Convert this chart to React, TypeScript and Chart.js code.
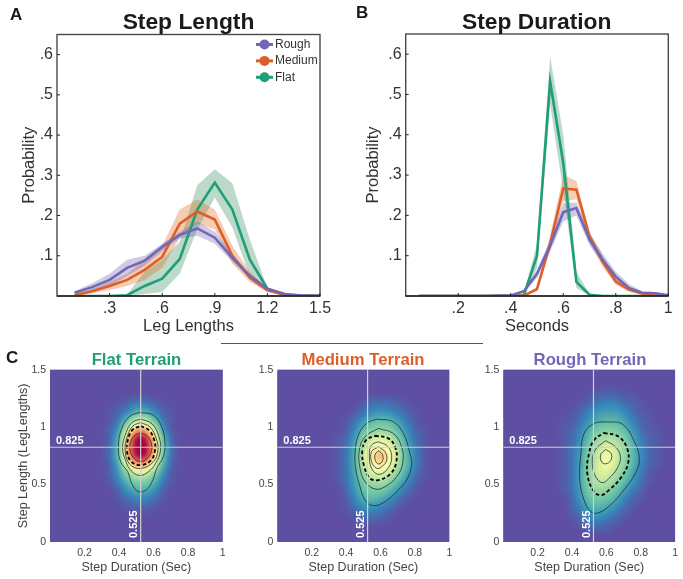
import React, { useEffect, useRef } from "react";
import { Chart, ChartConfiguration, Plugin, registerables } from "chart.js";

Chart.register(...registerables);

const FONT = "'Liberation Sans', Arial, sans-serif";
const ROUGH = "#7068b6";
const MEDIUM = "#dc5f2a";
const FLAT = "#1f9e77";
const ROUGH_BAND = "rgba(95,82,165,.3)";
const MEDIUM_BAND = "rgba(222,88,8,.3)";
const FLAT_BAND = "rgba(32,128,75,.3)";
const INK = "#333333";

// Panel A, step length histogram
const lengthBins = [.1, .2, .3, .4, .5, .6, .7, .8, .9, 1, 1.1, 1.2, 1.3, 1.4, 1.5];
const lengthRough = [.008, .022, .04, .07, .088, .122, .152, .168, .145, .095, .05, .018, .005, .001, .001];
const lengthRoughHi = [.012, .032, .055, .09, .1, .13, .16, .185, .16, .105, .055, .02, .006, .002, .001];
const lengthRoughLo = [.004, .012, .025, .05, .075, .112, .143, .15, .13, .085, .045, .015, .004, .001, 0];
const lengthMedium = [.002, .012, .025, .04, .065, .097, .18, .21, .19, .1, .045, .014, .003, .001, 0];
const lengthMediumHi = [.003, .018, .035, .055, .09, .125, .215, .24, .215, .125, .06, .018, .004, .001, 0];
const lengthMediumLo = [0, .006, .015, .025, .04, .07, .145, .18, .165, .08, .035, .01, .002, 0, 0];
const lengthFlat = [0, 0, 0, .002, .025, .043, .092, .215, .282, .215, .09, .018, .002, 0, 0];
const lengthFlatHi = [0, 0, 0, .004, .06, .09, .135, .275, .315, .28, .14, .02, .003, 0, 0];
const lengthFlatLo = [0, 0, 0, 0, .005, .01, .055, .165, .245, .17, .05, .015, .001, 0, 0];

// Panel B, step duration histogram
const durationBins = [.05, .1, .15, .2, .25, .3, .35, .4, .45, .5, .55, .6, .65, .7, .75, .8, .85, .9, .95, 1];
const durationRough = [0, 0, 0, 0, 0, 0, .001, .001, .012, .055, .125, .208, .218, .14, .09, .048, .02, .008, .007, .002];
const durationRoughHi = [0, 0, 0, 0, 0, 0, .001, .002, .015, .065, .14, .23, .232, .155, .105, .06, .03, .012, .01, .003];
const durationRoughLo = [0, 0, 0, 0, 0, 0, 0, 0, .008, .045, .11, .185, .2, .125, .08, .04, .015, .005, .004, .001];
const durationMedium = [0, 0, 0, 0, 0, 0, 0, 0, .001, .017, .13, .267, .264, .148, .085, .036, .016, .006, .001, 0];
const durationMediumHi = [0, 0, 0, 0, 0, 0, 0, 0, .002, .022, .15, .3, .285, .16, .1, .045, .022, .009, .002, 0];
const durationMediumLo = [0, 0, 0, 0, 0, 0, 0, 0, 0, .012, .112, .235, .24, .135, .072, .028, .01, .003, 0, 0];
const durationFlat = [0, 0, 0, 0, 0, 0, 0, 0, .002, .1, .532, .33, .035, .003, 0, 0, 0, 0, 0, 0];
const durationFlatHi = [0, 0, 0, 0, 0, 0, 0, 0, .006, .13, .595, .4, .06, .005, 0, 0, 0, 0, 0, 0];
const durationFlatLo = [0, 0, 0, 0, 0, 0, 0, 0, 0, .07, .475, .26, .02, .001, 0, 0, 0, 0, 0, 0];

const probTicks = [.1, .2, .3, .4, .5, .6];
const lengthTicks = [.3, .6, .9, 1.2, 1.5];
const durationTicks = [.2, .4, .6, .8, 1];
const heatXTicks = [.2, .4, .6, .8, 1];
const heatYTicks = [0, .5, 1, 1.5];
const legendNames = ["Rough", "Medium", "Flat"];
const legendColors = [ROUGH, MEDIUM, FLAT];

// Panel C, joint densities: the rows run from the top down
const crossX = 0.525;
const crossY = 0.825;
const flatCols = [.3, .35, .4, .45, .5, .55, .6, .65, .7, .75, .8];
const flatRows = [1.275, 1.2, 1.125, 1.05, .975, .9, .825, .75, .675, .6, .525, .45, .375, .3, .225];
const flatGrid = [
  [0, 0, 0, 0, .01, .01, 0, 0, 0, 0, 0],
  [0, 0, .01, .02, .04, .04, .02, .01, 0, 0, 0],
  [0, .01, .02, .05, .11, .11, .06, .02, .01, 0, 0],
  [0, .01, .04, .14, .33, .33, .16, .04, .01, 0, 0],
  [0, .02, .07, .33, .72, .72, .36, .08, .01, 0, 0],
  [0, .02, .11, .6, 1, 1, .62, .14, .02, 0, 0],
  [0, .03, .13, .7, 1.05, 1.05, .72, .17, .03, 0, 0],
  [0, .03, .13, .65, 1, 1, .66, .15, .03, 0, 0],
  [0, .02, .1, .42, .72, .72, .44, .12, .02, 0, 0],
  [0, .02, .07, .2, .35, .35, .2, .07, .01, 0, 0],
  [0, .01, .05, .12, .18, .18, .12, .04, .01, 0, 0],
  [0, 0, .02, .07, .1, .1, .07, .02, 0, 0, 0],
  [0, 0, .01, .03, .05, .05, .03, .01, 0, 0, 0],
  [0, 0, 0, .01, .02, .02, .01, 0, 0, 0, 0],
  [0, 0, 0, 0, 0, 0, 0, 0, 0, 0, 0],
];
const mediumCols = [.3, .35, .4, .45, .5, .55, .6, .65, .7, .75, .8, .85, .9];
const mediumRows = [1.275, 1.2, 1.125, 1.05, .975, .9, .825, .75, .675, .6, .525, .45, .375, .3, .225, .15];
const mediumGrid = [
  [0, 0, 0, 0, 0, .01, .01, .01, 0, 0, 0, 0, 0],
  [0, 0, 0, 0, .01, .03, .03, .03, .02, .01, 0, 0, 0],
  [0, 0, 0, .01, .03, .06, .07, .06, .04, .02, .01, 0, 0],
  [0, 0, .01, .03, .07, .12, .13, .12, .08, .04, .01, 0, 0],
  [0, 0, .01, .05, .12, .19, .21, .19, .12, .06, .02, .01, 0],
  [0, .01, .02, .07, .2, .31, .34, .3, .18, .08, .03, .01, 0],
  [0, .01, .03, .09, .27, .44, .5, .42, .24, .1, .04, .01, 0],
  [0, .01, .03, .1, .3, .55, .7, .5, .27, .12, .05, .01, 0],
  [0, .01, .03, .1, .28, .47, .58, .44, .25, .12, .05, .01, 0],
  [0, .01, .03, .09, .22, .35, .39, .31, .19, .09, .03, .01, 0],
  [0, .01, .03, .08, .17, .24, .26, .2, .12, .06, .02, 0, 0],
  [0, 0, .02, .07, .13, .17, .17, .12, .07, .03, .01, 0, 0],
  [0, 0, .01, .05, .1, .12, .1, .07, .03, .01, 0, 0, 0],
  [0, 0, .01, .03, .06, .07, .05, .03, .01, 0, 0, 0, 0],
  [0, 0, 0, .01, .03, .03, .02, .01, 0, 0, 0, 0, 0],
  [0, 0, 0, 0, .01, .01, .01, 0, 0, 0, 0, 0, 0],
];
const roughCols = [.3, .35, .4, .45, .5, .55, .6, .65, .7, .75, .8, .85, .9, .95];
const roughRows = [1.35, 1.275, 1.2, 1.125, 1.05, .975, .9, .825, .75, .675, .6, .525, .45, .375, .3, .225, .15, .075];
const roughGrid = [
  [0, 0, 0, 0, 0, 0, .01, .01, 0, 0, 0, 0, 0, 0],
  [0, 0, 0, 0, .01, .02, .02, .02, .01, .01, 0, 0, 0, 0],
  [0, 0, 0, .01, .02, .04, .05, .05, .03, .02, .01, 0, 0, 0],
  [0, 0, .01, .02, .05, .07, .08, .08, .06, .03, .01, .01, 0, 0],
  [0, .01, .01, .03, .07, .1, .12, .12, .09, .05, .02, .01, 0, 0],
  [0, .01, .02, .05, .1, .16, .18, .17, .13, .07, .03, .01, .01, 0],
  [0, .01, .02, .06, .13, .22, .27, .25, .18, .1, .04, .02, .01, 0],
  [0, .01, .03, .07, .16, .27, .36, .32, .22, .12, .05, .02, .01, 0],
  [0, .01, .03, .08, .18, .31, .44, .35, .23, .13, .06, .02, .01, 0],
  [0, .01, .03, .08, .19, .33, .42, .33, .21, .12, .05, .02, .01, 0],
  [0, .01, .03, .09, .2, .33, .36, .27, .17, .09, .04, .01, 0, 0],
  [0, .01, .03, .09, .19, .29, .29, .21, .13, .07, .03, .01, 0, 0],
  [0, .01, .03, .08, .17, .22, .21, .15, .09, .04, .02, 0, 0, 0],
  [0, 0, .02, .07, .13, .16, .15, .1, .05, .02, .01, 0, 0, 0],
  [0, 0, .02, .05, .1, .11, .09, .06, .03, .01, 0, 0, 0, 0],
  [0, 0, .01, .03, .06, .07, .05, .03, .01, 0, 0, 0, 0, 0],
  [0, 0, 0, .01, .03, .03, .02, .01, 0, 0, 0, 0, 0, 0],
  [0, 0, 0, 0, .01, .01, .01, 0, 0, 0, 0, 0, 0, 0],
];

// Contours as [duration, length] pairs. The dashed one is listed apart.
type Pair = [number, number];
const flatContours: Pair[][] = [
  [[.521, 1.128], [.598, 1.105], [.647, 1.003], [.666, .858], [.656, .742], [.618, .641], [.595, .539], [.56, .458], [.512, .438], [.473, .51], [.45, .612], [.409, .699], [.396, .829], [.415, .989], [.463, 1.096]],
  [[.525, 1.07], [.59, 1.03], [.63, .92], [.64, .8], [.61, .68], [.56, .6], [.515, .58], [.47, .62], [.44, .7], [.42, .82], [.44, .95], [.475, 1.04]],
  [[.525, 1.04], [.58, 1], [.615, .9], [.625, .8], [.6, .7], [.525, .64], [.46, .68], [.435, .8], [.45, .93], [.48, 1.01]],
  [[.525, .95], [.565, .92], [.59, .83], [.57, .74], [.525, .7], [.48, .74], [.462, .83], [.485, .92]],
];
const flatDashed: Pair[] = [[.525, 1.01], [.575, .97], [.605, .88], [.608, .8], [.585, .71], [.525, .67], [.47, .7], [.445, .8], [.455, .91], [.48, .98]];
const mediumContours: Pair[][] = [
  [[.578, 1.07], [.674, 1.047], [.733, .945], [.771, .771], [.781, .67], [.752, .54], [.694, .438], [.626, .351], [.558, .316], [.51, .365], [.481, .481], [.457, .626], [.452, .771], [.471, .931], [.519, 1.032]],
  [[.587, .989], [.674, .945], [.723, .829], [.729, .684], [.694, .568], [.626, .481], [.568, .461], [.51, .525], [.481, .641], [.477, .8], [.51, .916]],
  [[.587, .873], [.645, .829], [.665, .728], [.636, .626], [.587, .589], [.548, .641], [.535, .757], [.548, .844]],
  [[.587, .829], [.626, .786], [.636, .713], [.607, .655], [.578, .641], [.548, .699], [.548, .786]],
  [[.591, .795], [.612, .757], [.612, .708], [.591, .679], [.57, .708], [.57, .766]],
];
const mediumDashed: Pair[] = [[.568, .925], [.645, .902], [.688, .815], [.69, .684], [.655, .589], [.587, .539], [.539, .554], [.506, .655], [.494, .786], [.516, .887]];
const roughContours: Pair[][] = [
  [[.595, 1.047], [.692, 1.027], [.759, .887], [.792, .728], [.769, .597], [.701, .452], [.634, .336], [.557, .255], [.509, .264], [.47, .365], [.445, .539], [.451, .757], [.47, .945], [.528, 1.032]],
  [[.595, .882], [.653, .829], [.682, .742], [.663, .641], [.615, .554], [.576, .516], [.538, .568], [.518, .684], [.534, .8]],
  [[.595, .806], [.628, .771], [.628, .719], [.605, .684], [.576, .69], [.566, .757]],
];
const roughDashed: Pair[] = [[.586, .951], [.672, .916], [.721, .815], [.726, .684], [.682, .554], [.615, .452], [.572, .409], [.528, .438], [.489, .597], [.499, .771], [.528, .887]];

// Spectral colour map, the low end is compressed like the reference
const spectralStops = [0, .05, .13, .25, .36, .47, .57, .67, .8, .9, 1];
const spectral = [
  [94, 79, 162], [50, 136, 189], [102, 194, 165], [171, 221, 164], [230, 245, 152],
  [255, 255, 191], [254, 224, 139], [253, 174, 97], [244, 109, 67], [213, 62, 79], [158, 1, 66],
];

function colorFor(v: number): number[] {
  let i = 0;
  while (i < spectralStops.length - 2 && v > spectralStops[i + 1]) {
    i++;
  }
  const f = Math.min(Math.max((v - spectralStops[i]) / (spectralStops[i + 1] - spectralStops[i]), 0), 1);
  return spectral[i].map((c, k) => c + (spectral[i + 1][k] - c) * f);
}

/** Paints a value grid like imshow with interpolation, positions come from the scales. */
function heatPlugin(cols: number[], rows: number[], grid: number[][]): Plugin {
  const dx = cols[1] - cols[0];
  const dy = rows[0] - rows[1];
  const sample = (x: number, y: number) => {
    const u = (x - cols[0]) / dx;
    const v = (rows[0] - y) / dy;
    const i = Math.floor(u);
    const j = Math.floor(v);
    if (i < 0 || j < 0 || i >= cols.length - 1 || j >= rows.length - 1) {
      return 0;
    }
    const a = u - i;
    const b = v - j;
    return grid[j][i] * (1 - a) * (1 - b) + grid[j][i + 1] * a * (1 - b)
      + grid[j + 1][i] * (1 - a) * b + grid[j + 1][i + 1] * a * b;
  };
  return {
    id: "heat",
    beforeDatasetsDraw(chart) {
      const { ctx, chartArea: area, scales } = chart;
      const w = Math.ceil(area.width);
      const h = Math.ceil(area.height);
      const off = document.createElement("canvas");
      off.width = w;
      off.height = h;
      const octx = off.getContext("2d")!;
      const img = octx.createImageData(w, h);
      for (let py = 0; py < h; py++) {
        const y = scales.y.getValueForPixel(area.top + py + .5)!;
        for (let px = 0; px < w; px++) {
          const x = scales.x.getValueForPixel(area.left + px + .5)!;
          const c = colorFor(sample(x, y));
          const o = (py * w + px) * 4;
          img.data[o] = c[0];
          img.data[o + 1] = c[1];
          img.data[o + 2] = c[2];
          img.data[o + 3] = 255;
        }
      }
      octx.putImageData(img, 0, 0);
      ctx.save();
      ctx.fillStyle = "rgb(94,79,162)";
      ctx.fillRect(area.left, area.top, area.width, area.height);
      ctx.beginPath();
      ctx.rect(area.left, area.top, area.width, area.height);
      ctx.clip();
      ctx.filter = "blur(2px)";
      ctx.drawImage(off, area.left, area.top, area.width, area.height);
      ctx.restore();
    },
  };
}

const crossLabels: Plugin = {
  id: "crossLabels",
  afterDatasetsDraw(chart) {
    const { ctx, chartArea: area, scales } = chart;
    ctx.save();
    ctx.fillStyle = "#ffffff";
    ctx.font = `bold 11px ${FONT}`;
    ctx.textBaseline = "bottom";
    ctx.fillText(crossY.toFixed(3), area.left + 6, scales.y.getPixelForValue(crossY) - 1);
    ctx.translate(scales.x.getPixelForValue(crossX) - 1, area.bottom - 4);
    ctx.rotate(-Math.PI / 2);
    ctx.fillText(crossX.toFixed(3), 0, 0);
    ctx.restore();
  },
};

const frame: Plugin = {
  id: "frame",
  afterDraw(chart) {
    const { ctx, chartArea: area, scales } = chart;
    ctx.save();
    ctx.strokeStyle = "#4a4a4a";
    ctx.lineWidth = 1.4;
    ctx.strokeRect(area.left, area.top, area.width, area.height);
    ctx.strokeStyle = "#222222";
    ctx.lineWidth = 1.7;
    ctx.beginPath();
    ctx.moveTo(area.left, area.bottom);
    ctx.lineTo(area.right, area.bottom);
    ctx.stroke();
    ctx.lineWidth = 1;
    ctx.beginPath();
    scales.x.ticks.forEach((t) => {
      const x = scales.x.getPixelForValue(t.value);
      ctx.moveTo(x, area.bottom);
      ctx.lineTo(x, area.bottom - 3);
    });
    scales.y.ticks.forEach((t) => {
      const y = scales.y.getPixelForValue(t.value);
      ctx.moveTo(area.left, y);
      ctx.lineTo(area.left + 3, y);
    });
    ctx.stroke();
    ctx.restore();
  },
};

const legendBox: Plugin = {
  id: "legendBox",
  afterDraw(chart) {
    const { ctx } = chart;
    ctx.save();
    ctx.font = `12px ${FONT}`;
    ctx.textBaseline = "middle";
    legendNames.forEach((name, i) => {
      const y = 44.5 + i * 16.4;
      ctx.strokeStyle = legendColors[i];
      ctx.fillStyle = legendColors[i];
      ctx.lineWidth = 3;
      ctx.beginPath();
      ctx.moveTo(256, y);
      ctx.lineTo(273, y);
      ctx.stroke();
      ctx.beginPath();
      ctx.arc(264.5, y, 5, 0, Math.PI * 2);
      ctx.fill();
      ctx.fillStyle = INK;
      ctx.fillText(name, 275, y);
    });
    ctx.restore();
  },
};

const cleanTick = (v: number | string) => String(v).replace(/^0\./, ".");

function lineDataset(color: string, values: number[]) {
  return {
    data: values, borderColor: color, borderWidth: 2.6,
    pointRadius: 0, fill: false, tension: 0,
  };
}

function bandDatasets(color: string, hi: number[], lo: number[], loIndex: number) {
  return [
    { data: hi, borderWidth: 0, pointRadius: 0, backgroundColor: color, fill: loIndex },
    { data: lo, borderWidth: 0, pointRadius: 0, fill: false },
  ];
}

function histogramConfig(o: {
  bins: number[], series: number[][], xMax: number, xTicks: number[], xLabel: string,
  padLeft: number, axisWidth: number, padRight: number, padTop: number,
  plugins: Plugin[],
}): ChartConfiguration {
  const [r, rh, rl, m, mh, ml, f, fh, fl] = o.series;
  return {
    type: "line",
    data: {
      labels: o.bins,
      datasets: [
        lineDataset(ROUGH, r),
        lineDataset(MEDIUM, m),
        lineDataset(FLAT, f),
        ...bandDatasets(ROUGH_BAND, rh, rl, 4),
        ...bandDatasets(MEDIUM_BAND, mh, ml, 6),
        ...bandDatasets(FLAT_BAND, fh, fl, 8),
      ] as any,
    },
    options: {
      animation: false,
      responsive: false,
      layout: { padding: { left: o.padLeft, right: o.padRight, top: o.padTop, bottom: 0 } },
      plugins: { legend: { display: false }, tooltip: { enabled: false } },
      scales: {
        x: {
          type: "linear", min: 0, max: o.xMax,
          grid: { display: false, drawTicks: false },
          border: { display: false },
          afterBuildTicks: (s: any) => { s.ticks = o.xTicks.map((value) => ({ value })); },
          afterFit: (s: any) => { s.height = 40; },
          ticks: {
            color: INK, padding: 3, maxRotation: 0, autoSkip: false,
            font: { family: FONT, size: 16 },
            callback: (v: any) => cleanTick(v),
          },
          title: {
            display: true, text: o.xLabel, color: INK, padding: 0,
            font: { family: FONT, size: 16.5 },
          },
        },
        y: {
          min: 0, max: .65,
          grid: { display: false, drawTicks: false },
          border: { display: false },
          afterBuildTicks: (s: any) => { s.ticks = probTicks.map((value) => ({ value })); },
          afterFit: (s: any) => { s.width = o.axisWidth; },
          ticks: {
            color: INK, padding: 4,
            font: { family: FONT, size: 16 },
            callback: (v: any) => cleanTick(v),
          },
          title: {
            display: true, text: "Probability", color: INK, padding: 0,
            font: { family: FONT, size: 16.5 },
          },
        },
      },
    },
    plugins: o.plugins,
  };
}

function toPoints(pairs: Pair[], close = true) {
  const pts = pairs.map(([x, y]) => ({ x, y }));
  return close ? [...pts, pts[0]] : pts;
}

function heatConfig(o: {
  cols: number[], rows: number[], grid: number[][],
  contours: Pair[][], dashed: Pair[],
  padLeft: number, axisWidth: number, padRight: number, yLabel?: string,
}): ChartConfiguration {
  const cross = { borderColor: "#cfcfcf", borderWidth: 1.2, pointRadius: 0, showLine: true, tension: 0 };
  return {
    type: "scatter",
    data: {
      datasets: [
        { ...cross, data: toPoints([[crossX, 0], [crossX, 1.5]], false) },
        { ...cross, data: toPoints([[0, crossY], [1, crossY]], false) },
        {
          data: toPoints(o.dashed), showLine: true, tension: .4, pointRadius: 0,
          borderColor: "#000000", borderWidth: 1.8, borderDash: [3.5, 2.5],
        },
        ...o.contours.map((c) => ({
          data: toPoints(c), showLine: true, tension: .4, pointRadius: 0,
          borderColor: "#14323a", borderWidth: .8,
        })),
      ] as any,
    },
    options: {
      animation: false,
      responsive: false,
      layout: { padding: { left: o.padLeft, right: o.padRight, top: 29.7, bottom: 0 } },
      plugins: { legend: { display: false }, tooltip: { enabled: false } },
      scales: {
        x: {
          type: "linear", min: 0, max: 1,
          grid: { display: false, drawTicks: false },
          border: { display: false },
          afterBuildTicks: (s: any) => { s.ticks = heatXTicks.map((value) => ({ value })); },
          afterFit: (s: any) => { s.height = 33; },
          ticks: {
            color: "#444444", padding: 5, maxRotation: 0, font: { family: FONT, size: 10.5 },
            callback: (v: any) => String(v),
          },
          title: {
            display: true, text: "Step Duration (Sec)", color: "#444444", padding: 0,
            font: { family: FONT, size: 12.5 },
          },
        },
        y: {
          type: "linear", min: 0, max: 1.5,
          grid: { display: false, drawTicks: false },
          border: { display: false },
          afterBuildTicks: (s: any) => { s.ticks = heatYTicks.map((value) => ({ value })); },
          afterFit: (s: any) => { s.width = o.axisWidth; },
          ticks: {
            color: "#444444", padding: 4, font: { family: FONT, size: 10.5 },
            callback: (v: any) => String(v),
          },
          title: {
            display: !!o.yLabel, text: o.yLabel, color: "#444444", padding: 0,
            font: { family: FONT, size: 12.5 },
          },
        },
      },
    },
    plugins: [heatPlugin(o.cols, o.rows, o.grid), crossLabels],
  };
}

const Panel = ({ left, top, width, height, config }: {
  left: number, top: number, width: number, height: number,
  config: ChartConfiguration,
}) => {
  const canvas = useRef<HTMLCanvasElement>(null);
  useEffect(() => {
    const chart = new Chart(canvas.current!.getContext("2d")!, config);
    return () => chart.destroy();
  }, []);
  return (
    <canvas ref={canvas} width={width} height={height}
      style={{ position: "absolute", left, top, width, height }} />
  );
};

const Label = ({ x, y, size, color, children, center }: {
  x: number, y: number, size: number, color: string,
  children: React.ReactNode, center?: boolean,
}) => (
  <div style={{
    position: "absolute", left: x, top: y, lineHeight: "1",
    transform: center ? "translate(-50%, -50%)" : "translateY(-50%)",
    font: `bold ${size}px ${FONT}`, color, whiteSpace: "nowrap",
  }}>
    {children}
  </div>
);

const lengthConfig = histogramConfig({
  bins: lengthBins,
  series: [lengthRough, lengthRoughHi, lengthRoughLo, lengthMedium, lengthMediumHi, lengthMediumLo, lengthFlat, lengthFlatHi, lengthFlatLo],
  xMax: 1.5, xTicks: lengthTicks, xLabel: "Leg Lengths",
  padLeft: 20, axisWidth: 37, padRight: 20, padTop: 34.5,
  plugins: [frame, legendBox],
});
const durationConfig = histogramConfig({
  bins: durationBins,
  series: [durationRough, durationRoughHi, durationRoughLo, durationMedium, durationMediumHi, durationMediumLo, durationFlat, durationFlatHi, durationFlatLo],
  xMax: 1, xTicks: durationTicks, xLabel: "Seconds",
  padLeft: 24, axisWidth: 41.7, padRight: 14.7, padTop: 34,
  plugins: [frame],
});

export default function App() {
  return (
    <div style={{ position: "absolute", left: 0, top: 0, width: 683, height: 579, background: "#fff", overflow: "hidden" }}>
      <Panel left={0} top={0} width={340} height={336} config={lengthConfig} />
      <Panel left={340} top={0} width={343} height={336} config={durationConfig} />
      <Panel left={0} top={340} width={235} height={235} config={heatConfig({
        cols: flatCols, rows: flatRows, grid: flatGrid, contours: flatContours, dashed: flatDashed,
        padLeft: 16, axisWidth: 34, padRight: 12.3, yLabel: "Step Length (LegLengths)",
      })} />
      <Panel left={227} top={340} width={235} height={235} config={heatConfig({
        cols: mediumCols, rows: mediumRows, grid: mediumGrid, contours: mediumContours, dashed: mediumDashed,
        padLeft: 0, axisWidth: 50.3, padRight: 12.7,
      })} />
      <Panel left={453} top={340} width={230} height={235} config={heatConfig({
        cols: roughCols, rows: roughRows, grid: roughGrid, contours: roughContours, dashed: roughDashed,
        padLeft: 0, axisWidth: 50.3, padRight: 6.7,
      })} />
      <Label x={10} y={15} size={17} color="#1a1a1a">A</Label>
      <Label x={356} y={13} size={17} color="#1a1a1a">B</Label>
      <Label x={6} y={358} size={17} color="#1a1a1a">C</Label>
      <Label x={188.5} y={20.5} size={22.8} color="#1a1a1a" center>Step Length</Label>
      <Label x={536.7} y={20.5} size={22.8} color="#1a1a1a" center>Step Duration</Label>
      <Label x={136.5} y={360} size={16.7} color={FLAT} center>Flat Terrain</Label>
      <Label x={363} y={360} size={16.7} color={MEDIUM} center>Medium Terrain</Label>
      <Label x={590} y={360} size={16.7} color={ROUGH} center>Rough Terrain</Label>
      <div style={{ position: "absolute", left: 221, top: 343, width: 262, height: 1, background: "#555" }} />
    </div>
  );
}
